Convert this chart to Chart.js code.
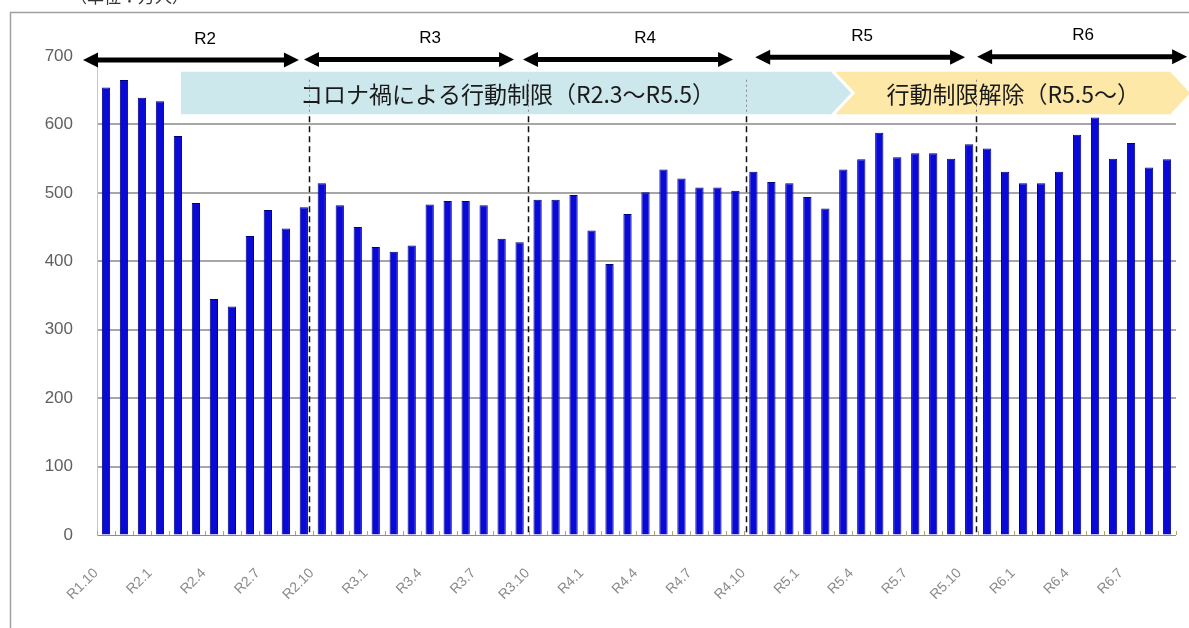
<!DOCTYPE html>
<html>
<head>
<meta charset="utf-8">
<script src="https://cdn.jsdelivr.net/npm/chart.js"></script>
<style>
  body { margin: 0; background: #fff; }
  #wrap { width: 1189px; height: 628px; }
</style>
</head>
<body>
<div id="wrap"><canvas id="visitChart" width="1189" height="628"></canvas></div>
<script>
// months R1.10 - R6.9
const months = [
  'R1.10','R1.11','R1.12',
  'R2.1','R2.2','R2.3','R2.4','R2.5','R2.6','R2.7','R2.8','R2.9','R2.10','R2.11','R2.12',
  'R3.1','R3.2','R3.3','R3.4','R3.5','R3.6','R3.7','R3.8','R3.9','R3.10','R3.11','R3.12',
  'R4.1','R4.2','R4.3','R4.4','R4.5','R4.6','R4.7','R4.8','R4.9','R4.10','R4.11','R4.12',
  'R5.1','R5.2','R5.3','R5.4','R5.5','R5.6','R5.7','R5.8','R5.9','R5.10','R5.11','R5.12',
  'R6.1','R6.2','R6.3','R6.4','R6.5','R6.6','R6.7','R6.8','R6.9'
];
// 万人
const visitors = [
  654, 665, 639,
  634, 583, 485, 345, 334, 437, 475, 448, 479, 514, 482, 450,
  421, 414, 423, 483, 488, 488, 482, 433, 428, 490, 490, 497,
  445, 396, 469, 501, 534, 521, 508, 508, 503, 531, 516, 514,
  494, 477, 534, 549, 588, 552, 558, 558, 550, 571, 565, 531,
  514, 514, 531, 585, 610, 550, 573, 537, 549
];
const shownTicks = ['R1.10','R2.1','R2.4','R2.7','R2.10','R3.1','R3.4','R3.7','R3.10','R4.1',
  'R4.4','R4.7','R4.10','R5.1','R5.4','R5.7','R5.10','R6.1','R6.4','R6.7'];
const yTicks = [0, 100, 200, 300, 400, 500, 600, 700];

// year arrows (in category index units)
const yearNames = ['R2', 'R3', 'R4', 'R5', 'R6'];
const yearFrom = [-1.28, 11.01, 23.19, 36.1, 48.44];
const yearTo = [10.73, 22.69, 34.87, 47.77, 60.12];
const yearLabelAt = [5.51, 18.02, 29.98, 42.05, 54.34];
const yearArrowY = [694, 695, 695, 698, 699];
const boundaries = [11.3, 23.45, 35.6, 48.4];

// phase bands
const phaseText = ['コロナ禍による行動制限（R2.3～R5.5）', '行動制限解除（R5.5～）'];
const phaseFrom = [4.17, 40.55];
const phaseTo = [40.32, 59.18];
const phaseTextAt = [22.33, 50.45];
const phaseColors = ['#cce8ec', '#fde8a8'];

const overlay = {
  id: 'overlay',
  beforeDraw(chart) {
    const ctx = chart.ctx;
    ctx.save();
    ctx.fillStyle = '#fff';
    ctx.fillRect(0, 0, chart.width, chart.height);
    // outer frame
    ctx.strokeStyle = '#a0a0a0';
    ctx.lineWidth = 1.5;
    ctx.beginPath();
    ctx.moveTo(10.5, chart.height);
    ctx.lineTo(10.5, 12.5);
    ctx.lineTo(chart.width, 12.5);
    ctx.stroke();
    // unit (cut off at the top)
    ctx.fillStyle = '#333';
    ctx.font = '17px "Noto Sans CJK JP"';
    ctx.textBaseline = 'bottom';
    ctx.fillText('（単位：万人）', 70, 5);
    ctx.restore();
  },
  afterDatasetsDraw(chart) {
    const ctx = chart.ctx;
    const xs = chart.scales.x, ys = chart.scales.y;
    const x0 = xs.getPixelForValue(0);
    const step = xs.getPixelForValue(1) - x0;
    const px = v => x0 + v * step;
    const bottom = ys.getPixelForValue(0);
    ctx.save();

    // small ticks between bars
    ctx.strokeStyle = '#a8a878';
    ctx.lineWidth = 1;
    for (let i = 0; i <= months.length; i++) {
      const x = Math.round(px(i - 0.5)) + 0.5;
      ctx.beginPath();
      ctx.moveTo(x, bottom - 4);
      ctx.lineTo(x, bottom);
      ctx.stroke();
    }

    // phase bands
    const bTop = ys.getPixelForValue(677), bBot = ys.getPixelForValue(615);
    const bMid = (bTop + bBot) / 2;
    const tip = 20;
    phaseText.forEach((t, i) => {
      const l = px(phaseFrom[i]), r = px(phaseTo[i]);
      ctx.fillStyle = phaseColors[i];
      ctx.beginPath();
      ctx.moveTo(l, bTop);
      ctx.lineTo(r, bTop);
      ctx.lineTo(r + tip, bMid);
      ctx.lineTo(r, bBot);
      ctx.lineTo(l, bBot);
      if (i > 0) ctx.lineTo(l + tip, bMid);
      ctx.closePath();
      ctx.fill();
    });

    // fiscal-year dashed lines
    boundaries.forEach(b => {
      const x = Math.round(px(b)) + 0.5;
      ctx.setLineDash([2, 3]);
      ctx.strokeStyle = '#8a8a8a';
      ctx.lineWidth = 1;
      ctx.beginPath();
      ctx.moveTo(x, bTop + 8);
      ctx.lineTo(x, bBot);
      ctx.stroke();
      ctx.setLineDash([6, 4]);
      ctx.strokeStyle = '#111';
      ctx.lineWidth = 1.5;
      ctx.beginPath();
      ctx.moveTo(x, bBot + 2);
      ctx.lineTo(x, bottom);
      ctx.stroke();
    });
    ctx.setLineDash([]);

    ctx.fillStyle = '#1a1a1a';
    ctx.font = '23px "Noto Sans CJK JP"';
    ctx.textAlign = 'center';
    ctx.textBaseline = 'middle';
    phaseText.forEach((t, i) => ctx.fillText(t, px(phaseTextAt[i]), bMid + 1));

    // year arrows
    ctx.fillStyle = '#000';
    ctx.strokeStyle = '#000';
    yearNames.forEach((name, i) => {
      const l = px(yearFrom[i]), r = px(yearTo[i]);
      const y = ys.getPixelForValue(yearArrowY[i]);
      const head = 15, half = 7.5;
      ctx.lineWidth = 5;
      ctx.beginPath();
      ctx.moveTo(l + head - 2, y);
      ctx.lineTo(r - head + 2, y);
      ctx.stroke();
      ctx.beginPath();
      ctx.moveTo(l, y);
      ctx.lineTo(l + head, y - half);
      ctx.lineTo(l + head, y + half);
      ctx.closePath();
      ctx.fill();
      ctx.beginPath();
      ctx.moveTo(r, y);
      ctx.lineTo(r - head, y - half);
      ctx.lineTo(r - head, y + half);
      ctx.closePath();
      ctx.fill();
      ctx.font = '17px "Liberation Sans"';
      ctx.textAlign = 'center';
      ctx.textBaseline = 'middle';
      ctx.fillText(name, px(yearLabelAt[i]), y - 21);
    });
    ctx.restore();
  }
};

new Chart(document.getElementById('visitChart'), {
  type: 'bar',
  data: {
    labels: months,
    datasets: [{
      data: visitors,
      backgroundColor: '#0a0ad8',
      borderColor: '#000080',
      borderWidth: 1,
      barPercentage: 0.46,
      categoryPercentage: 1
    }]
  },
  options: {
    responsive: false,
    animation: false,
    devicePixelRatio: 1,
    layout: { padding: { top: 56, right: 13, left: 0, bottom: 0 } },
    plugins: { legend: { display: false }, tooltip: { enabled: false } },
    scales: {
      x: {
        offset: true,
        grid: { display: false, drawTicks: false },
        border: { display: false },
        ticks: {
          autoSkip: false,
          maxRotation: 45,
          minRotation: 45,
          padding: 30,
          labelOffset: -10,
          color: '#8a8a8a',
          font: { family: 'Liberation Sans', size: 14 },
          callback: function (v) {
            const lab = months[v];
            return shownTicks.includes(lab) ? lab : '';
          }
        },
        afterFit: s => { s.height = 93; s.paddingLeft = 0; s.paddingRight = 0; }
      },
      y: {
        min: 0,
        max: 700,
        afterBuildTicks: s => { s.ticks = yTicks.map(v => ({ value: v })); },
        grid: {
          drawTicks: false,
          color: c => c.tick.value === 700 ? 'rgba(0,0,0,0)' : (c.tick.value === 0 ? '#8a8a8a' : '#a6a6a6'),
          lineWidth: c => c.tick.value === 0 ? 1 : 2
        },
        border: { display: true, color: '#c8c8c8', width: 1 },
        ticks: {
          padding: 24,
          color: '#606060',
          font: { family: 'Liberation Sans', size: 17 }
        },
        afterFit: s => { s.width = 97; }
      }
    }
  },
  plugins: [overlay]
});
</script>
</body>
</html>
